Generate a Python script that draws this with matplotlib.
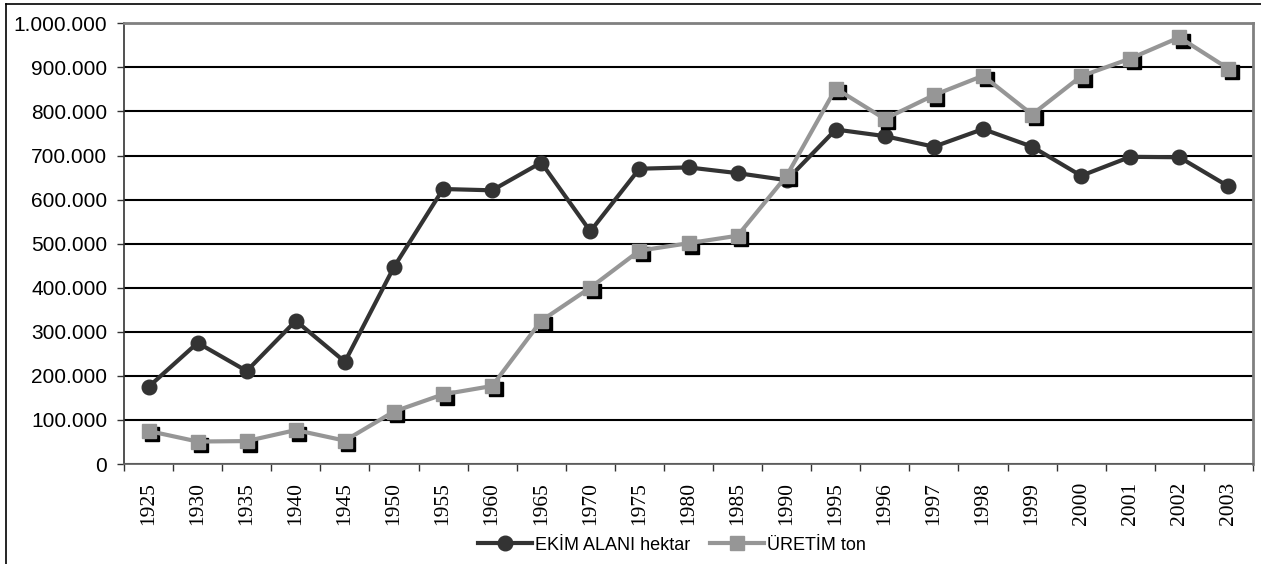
import matplotlib
matplotlib.use("Agg")
import matplotlib.pyplot as plt
from matplotlib.ticker import FuncFormatter, FixedLocator
from matplotlib.transforms import offset_copy
from matplotlib.lines import Line2D

years = ["1925", "1930", "1935", "1940", "1945", "1950", "1955", "1960", "1965",
         "1970", "1975", "1980", "1985", "1990", "1995", "1996", "1997", "1998",
         "1999", "2000", "2001", "2002", "2003"]
ekim_alani = [175000, 275000, 211000, 325000, 232000, 447000, 624000, 621000, 684000,
              528000, 670000, 673000, 660000, 644000, 759000, 744000, 720000, 760000,
              720000, 654000, 697000, 696000, 630000]
uretim = [75000, 51000, 52000, 77000, 53000, 119000, 158000, 177000, 325000,
          400000, 484000, 501000, 518000, 654000, 852000, 783000, 837000, 881000,
          793000, 880000, 920000, 968000, 897000]
series_names = ["EKİM ALANI hektar", "ÜRETİM ton"]

dark = "#333333"
light = "#969696"
lw = 3.0
ms_c = 10.5
ms_s = 9.5

fig = plt.figure(figsize=(12.61, 5.64), dpi=100)
ax = fig.add_axes([124 / 1261, 1 - 464 / 564, (1253 - 124) / 1261, (464 - 23.3) / 564])

x = list(range(len(years)))

ax.set_ylim(0, 1000000)
ax.set_xlim(-0.5, len(years) - 0.5)

# gridlines
ax.yaxis.set_major_locator(FixedLocator(range(0, 1000001, 100000)))
ax.grid(axis="y", color="black", linewidth=1.5, zorder=1)
ax.set_axisbelow(True)

ax.plot(x, ekim_alani, color=dark, linewidth=lw, marker="o", markersize=ms_c,
        markerfacecolor=dark, markeredgecolor=dark, zorder=3)
shadow_tr = offset_copy(ax.transData, fig=fig, x=3.5, y=-3.5, units="dots")
ax.plot(x, uretim, linestyle="none", marker="s", markersize=ms_s, color="black",
        transform=shadow_tr, zorder=4)
ax.plot(x, uretim, color=light, linewidth=lw, marker="s", markersize=ms_s,
        markerfacecolor=light, markeredgecolor=light, zorder=5)

def fmt(v, pos):
    if v == 0:
        return "0"
    return f"{int(v):,}".replace(",", ".")

ax.yaxis.set_major_formatter(FuncFormatter(fmt))
ax.tick_params(axis="y", length=5, width=1, pad=7, labelsize=15, color="#333333")
for lab in ax.get_yticklabels():
    lab.set_fontfamily("Liberation Sans")

ax.set_xticks(x)
ax.set_xticklabels(years, rotation=90, fontfamily="Liberation Serif", fontsize=15.5)
ax.set_xticks([i - 0.5 for i in range(len(years) + 1)], minor=True)
ax.tick_params(axis="x", which="major", length=0, pad=13)
ax.tick_params(axis="x", which="minor", length=5, width=1, color="#333333")

ax.spines["left"].set_color("#333333")
ax.spines["left"].set_linewidth(1.2)
ax.spines["bottom"].set_color("#666666")
ax.spines["bottom"].set_linewidth(1.3)
ax.spines["top"].set_color("#808080")
ax.spines["top"].set_linewidth(2)
ax.spines["right"].set_color("#808080")
ax.spines["right"].set_linewidth(2)

handles = [
    Line2D([], [], color=dark, linewidth=lw, marker="o", markersize=ms_c),
    Line2D([], [], color=light, linewidth=lw, marker="s", markersize=ms_s),
]
fig.legend(handles, series_names, loc="center", bbox_to_anchor=(672 / 1261, 1 - 545 / 564),
           ncol=2, frameon=False, prop={"family": "Liberation Sans", "size": 13},
           handlelength=3.0, handletextpad=0.15, columnspacing=1.1)

# outer chart border (top and left visible)
fig.add_artist(Line2D([6 / 1261, 1.0], [1 - 4 / 564, 1 - 4 / 564], transform=fig.transFigure,
                      color="black", linewidth=1.2))
fig.add_artist(Line2D([6 / 1261, 6 / 1261], [0, 1 - 4 / 564], transform=fig.transFigure,
                      color="black", linewidth=1.2))

fig.savefig("out.png", dpi=100, facecolor="white")
